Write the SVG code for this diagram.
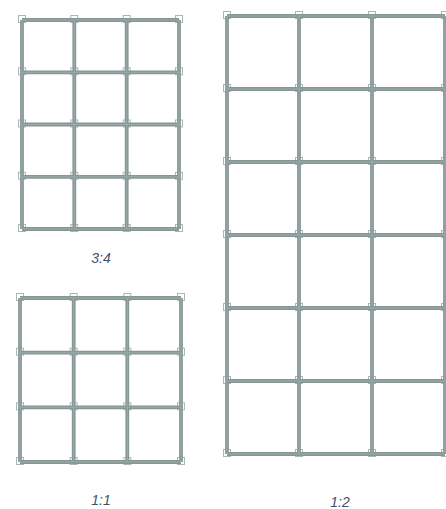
<svg xmlns="http://www.w3.org/2000/svg" xmlns:xlink="http://www.w3.org/1999/xlink" width="446" height="509" viewBox="0 0 446 509">
<style>
.bg{fill:#ffffff}
.outer{fill:none;stroke:#859795;stroke-width:3.8}
.inner{fill:none;stroke:#9cabaa;stroke-width:1}
.nd{fill:#ffffff;fill-opacity:0.4;stroke:#a9b7b5;stroke-width:1}
.lbl{font-family:"Liberation Sans","Open Sans",sans-serif;font-style:italic;font-size:14px;fill:#44506b;text-anchor:middle}
</style>
<defs>
<path id="gA" d="M22 20V229M74.3 20V229M126.7 20V229M179 20V229M22 20H179M22 72.3H179M22 124.5H179M22 176.8H179M22 229H179"/>
<path id="gB" d="M20 298V462M73.7 298V462M127.3 298V462M181 298V462M20 298H181M20 352.7H181M20 407.3H181M20 462H181"/>
<path id="gC" d="M227 16V454M299 16V454M372 16V454M445 16V454M227 16H445M227 89H445M227 162H445M227 235H445M227 308H445M227 381H445M227 454H445"/>
<rect id="sq" x="-3.5" y="-4.5" width="7" height="7"/>
</defs>
<rect class="bg" width="446" height="509"/>
<g id="grid-3-4">
<g class="nd">
<use xlink:href="#sq" x="22" y="20"/><use xlink:href="#sq" x="74.3" y="20"/><use xlink:href="#sq" x="126.7" y="20"/><use xlink:href="#sq" x="179" y="20"/>
<use xlink:href="#sq" x="22" y="72.3"/><use xlink:href="#sq" x="74.3" y="72.3"/><use xlink:href="#sq" x="126.7" y="72.3"/><use xlink:href="#sq" x="179" y="72.3"/>
<use xlink:href="#sq" x="22" y="124.5"/><use xlink:href="#sq" x="74.3" y="124.5"/><use xlink:href="#sq" x="126.7" y="124.5"/><use xlink:href="#sq" x="179" y="124.5"/>
<use xlink:href="#sq" x="22" y="176.8"/><use xlink:href="#sq" x="74.3" y="176.8"/><use xlink:href="#sq" x="126.7" y="176.8"/><use xlink:href="#sq" x="179" y="176.8"/>
<use xlink:href="#sq" x="22" y="229"/><use xlink:href="#sq" x="74.3" y="229"/><use xlink:href="#sq" x="126.7" y="229"/><use xlink:href="#sq" x="179" y="229"/>
</g>
<use xlink:href="#gA" class="outer"/>
<use xlink:href="#gA" class="inner"/>
<text class="lbl" x="101" y="263">3:4</text>
</g>
<g id="grid-1-1">
<g class="nd">
<use xlink:href="#sq" x="20" y="298"/><use xlink:href="#sq" x="73.7" y="298"/><use xlink:href="#sq" x="127.3" y="298"/><use xlink:href="#sq" x="181" y="298"/>
<use xlink:href="#sq" x="20" y="352.7"/><use xlink:href="#sq" x="73.7" y="352.7"/><use xlink:href="#sq" x="127.3" y="352.7"/><use xlink:href="#sq" x="181" y="352.7"/>
<use xlink:href="#sq" x="20" y="407.3"/><use xlink:href="#sq" x="73.7" y="407.3"/><use xlink:href="#sq" x="127.3" y="407.3"/><use xlink:href="#sq" x="181" y="407.3"/>
<use xlink:href="#sq" x="20" y="462"/><use xlink:href="#sq" x="73.7" y="462"/><use xlink:href="#sq" x="127.3" y="462"/><use xlink:href="#sq" x="181" y="462"/>
</g>
<use xlink:href="#gB" class="outer"/>
<use xlink:href="#gB" class="inner"/>
<text class="lbl" x="101" y="505">1:1</text>
</g>
<g id="grid-1-2">
<g class="nd">
<use xlink:href="#sq" x="227" y="16"/><use xlink:href="#sq" x="299" y="16"/><use xlink:href="#sq" x="372" y="16"/><use xlink:href="#sq" x="445" y="16"/>
<use xlink:href="#sq" x="227" y="89"/><use xlink:href="#sq" x="299" y="89"/><use xlink:href="#sq" x="372" y="89"/><use xlink:href="#sq" x="445" y="89"/>
<use xlink:href="#sq" x="227" y="162"/><use xlink:href="#sq" x="299" y="162"/><use xlink:href="#sq" x="372" y="162"/><use xlink:href="#sq" x="445" y="162"/>
<use xlink:href="#sq" x="227" y="235"/><use xlink:href="#sq" x="299" y="235"/><use xlink:href="#sq" x="372" y="235"/><use xlink:href="#sq" x="445" y="235"/>
<use xlink:href="#sq" x="227" y="308"/><use xlink:href="#sq" x="299" y="308"/><use xlink:href="#sq" x="372" y="308"/><use xlink:href="#sq" x="445" y="308"/>
<use xlink:href="#sq" x="227" y="381"/><use xlink:href="#sq" x="299" y="381"/><use xlink:href="#sq" x="372" y="381"/><use xlink:href="#sq" x="445" y="381"/>
<use xlink:href="#sq" x="227" y="454"/><use xlink:href="#sq" x="299" y="454"/><use xlink:href="#sq" x="372" y="454"/><use xlink:href="#sq" x="445" y="454"/>
</g>
<use xlink:href="#gC" class="outer"/>
<use xlink:href="#gC" class="inner"/>
<text class="lbl" x="340" y="507">1:2</text>
</g>
<g id="connectors"/>
</svg>
